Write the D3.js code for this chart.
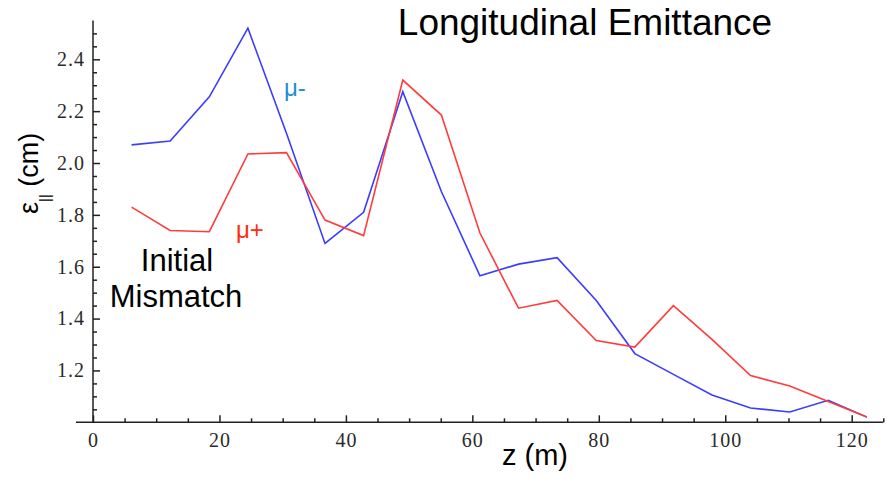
<!DOCTYPE html>
<html>
<head>
<meta charset="utf-8">
<script src="https://cdn.jsdelivr.net/npm/d3@7"></script>
<style>
  html, body { margin: 0; padding: 0; background: #fff; }
  svg { display: block; }
  .tick text { font-family: 'Liberation Serif', 'DejaVu Serif', serif; font-size: 20px; fill: #2a2a2a; letter-spacing: 1px; }
  .tick line { stroke: #222; stroke-width: 1.5; }
  .lbl { font-family: Arial, 'Liberation Sans', sans-serif; }
</style>
</head>
<body>
<div id="chart"></div>
<script>
// z position (m)
var zPos = [6.1, 12.2, 18.4, 24.5, 30.6, 36.7, 42.8, 49.0, 55.1, 61.2,
  67.3, 73.4, 79.6, 85.7, 91.8, 97.9, 104.0, 110.2, 116.3, 122.4]
// longitudinal emittance (cm)
var muMinus = [2.07, 2.085, 2.255, 2.52, 2.115, 1.69, 1.81, 2.275, 1.89, 1.565,
  1.61, 1.635, 1.47, 1.265, 1.185, 1.105, 1.055, 1.04, 1.085, 1.02]
var muPlus = [1.83, 1.74, 1.735, 2.035, 2.04, 1.78, 1.72, 2.32, 2.185, 1.73,
  1.44, 1.47, 1.315, 1.29, 1.45, 1.32, 1.18, 1.14, 1.08, 1.02]
var xTicks = [0, 20, 40, 60, 80, 100, 120]
var yTicks = [1.2, 1.4, 1.6, 1.8, 2.0, 2.2, 2.4]

var WIDTH = 888
var HEIGHT = 477

var svg = d3.select('#chart').append('svg')
  .attr('width', WIDTH)
  .attr('height', HEIGHT)

svg.append('rect').attr('width', WIDTH).attr('height', HEIGHT).attr('fill', '#fff')

var x = d3.scaleLinear().domain([0, 120]).range([93, 851.7])
var y = d3.scaleLinear().domain([1.0, 2.4]).range([422.3, 59.3])

// minor ticks
var xMinor = d3.range(5, 126, 5).filter(d => d % 20 !== 0)
var yMinor = d3.range(1.05, 2.52, 0.05).filter(d => Math.abs(d * 5 - Math.round(d * 5)) > 0.01)

svg.append('g')
  .attr('transform', 'translate(0,' + y(1.0) + ')')
  .call(d3.axisBottom(x).tickValues(xMinor).tickSize(-4).tickFormat(''))
  .call(g => g.select('.domain').remove())

svg.append('g')
  .attr('transform', 'translate(0,' + y(1.0) + ')')
  .call(d3.axisBottom(x).tickValues(xTicks).tickSize(-7).tickPadding(11).tickFormat(d3.format('d')))
  .call(g => g.select('.domain').remove())

svg.append('g')
  .attr('transform', 'translate(' + x(0) + ',0)')
  .call(d3.axisLeft(y).tickValues(yMinor).tickSize(-4).tickFormat(''))
  .call(g => g.select('.domain').remove())

svg.append('g')
  .attr('transform', 'translate(' + x(0) + ',0)')
  .call(d3.axisLeft(y).tickValues(yTicks).tickSize(-7).tickPadding(8).tickFormat(d3.format('.1f')))
  .call(g => g.select('.domain').remove())

// axis lines
svg.append('line')
  .attr('x1', x(-2.7)).attr('x2', x(125))
  .attr('y1', y(1.0)).attr('y2', y(1.0))
  .attr('stroke', '#222').attr('stroke-width', 1.5)
svg.append('line')
  .attr('x1', x(0)).attr('x2', x(0))
  .attr('y1', y(2.55)).attr('y2', y(1.0))
  .attr('stroke', '#222').attr('stroke-width', 1.5)

// series
var line = d3.line()
  .x((d, i) => x(zPos[i]))
  .y(d => y(d))

svg.append('path')
  .datum(muMinus)
  .attr('d', line)
  .attr('fill', 'none')
  .attr('stroke', '#3c3cff')
  .attr('stroke-width', 1.6)

svg.append('path')
  .datum(muPlus)
  .attr('d', line)
  .attr('fill', 'none')
  .attr('stroke', '#ff3c3c')
  .attr('stroke-width', 1.6)

// text labels
svg.append('text').attr('class', 'lbl')
  .attr('x', 585).attr('y', 35)
  .attr('text-anchor', 'middle')
  .attr('font-size', 37)
  .text('Longitudinal Emittance')

svg.append('text').attr('class', 'lbl')
  .attr('x', 535).attr('y', 465)
  .attr('text-anchor', 'middle')
  .attr('font-size', 29)
  .text('z (m)')

var ylab = svg.append('text').attr('class', 'lbl')
  .attr('transform', 'translate(38,214) rotate(-90)')
  .attr('font-size', 27)
ylab.append('tspan').text('ε')
ylab.append('tspan').attr('font-size', 15).attr('dy', 12).text('||')
ylab.append('tspan').attr('dy', -12).text(' (cm)')

svg.append('text').attr('class', 'lbl')
  .attr('x', 284).attr('y', 96)
  .attr('font-size', 24)
  .attr('fill', '#1a8fd6')
  .text('μ-')

svg.append('text').attr('class', 'lbl')
  .attr('x', 236).attr('y', 238)
  .attr('font-size', 24)
  .attr('fill', '#ff2a10')
  .text('μ+')

var note = svg.append('text').attr('class', 'lbl')
  .attr('text-anchor', 'middle')
  .attr('font-size', 31)
note.append('tspan').attr('x', 177).attr('y', 271).text('Initial')
note.append('tspan').attr('x', 176).attr('y', 307).text('Mismatch')
</script>
</body>
</html>
